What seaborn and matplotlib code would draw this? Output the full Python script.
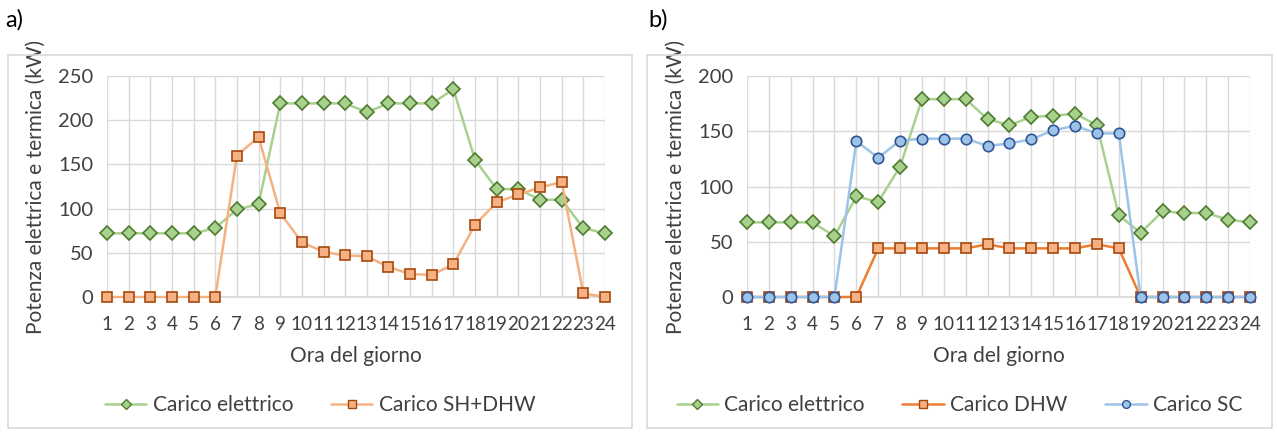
import matplotlib
matplotlib.use("Agg")
import matplotlib.pyplot as plt
import seaborn as sns
import pandas as pd
from matplotlib.patches import Rectangle
from matplotlib.lines import Line2D

sns.set_theme(style="white")
plt.rcParams['font.family'] = ['Lato', 'DejaVu Sans']

hours = list(range(1, 25))

# Panel a)
a_elettrico = [72, 72, 72, 72, 72, 78, 99, 105, 219, 219, 219, 219, 209, 219, 219, 219,
               235, 155, 122, 122, 110, 110, 78, 72]
a_sh_dhw = [0, 0, 0, 0, 0, 0, 160, 181, 95, 62, 51, 47, 46, 34, 26, 25,
            37, 82, 107, 116, 124, 130, 4, 0]

# Panel b)
b_elettrico = [67.5, 67.5, 67.5, 67.5, 55, 91, 86, 118, 179, 179, 179, 161, 155.5, 163, 164, 166,
               155.5, 74, 58, 77.5, 76, 76, 70, 67.5]
b_dhw = [0, 0, 0, 0, 0, 0, 44, 44, 44, 44, 44, 47.7, 44, 44, 44, 44,
         47.7, 44, 0, 0, 0, 0, 0, 0]
b_sc = [0, 0, 0, 0, 0, 141, 126, 141.5, 143.3, 143.3, 143.3, 136.7, 139, 142.7, 150.8, 155,
        148, 148, 0, 0, 0, 0, 0, 0]

x_label = "Ora del giorno"
y_label = "Potenza elettrica e termica (kW)"

styles = {
    "Carico elettrico": dict(color="#A9D18E", marker="D", mfc="#A9D18E", mec="#4E7A2E", ms=7),
    "Carico SH+DHW": dict(color="#F4B183", marker="s", mfc="#F4B183", mec="#A8480C", ms=7.5),
    "Carico DHW": dict(color="#ED7D31", marker="s", mfc="#F4B183", mec="#A8480C", ms=7.5),
    "Carico SC": dict(color="#9DC3E6", marker="o", mfc="#9DC3E6", mec="#2F5597", ms=7.5),
}

W, H = 1277, 432
fig = plt.figure(figsize=(W / 100, H / 100), dpi=100)

def fx(px):
    return px / W

def fy(py):
    return 1 - py / H

grid_c = "#D9D9D9"
text_c = "#404040"

panels = [
    dict(tag="a)", box=(8, 55, 632, 428), plot=(107, 76, 605, 297), ymax=250, yticks=[0, 50, 100, 150, 200, 250],
         series=[("Carico elettrico", a_elettrico), ("Carico SH+DHW", a_sh_dhw)], tagx=5),
    dict(tag="b)", box=(647, 55, 1272, 428), plot=(747, 76, 1250, 297), ymax=200, yticks=[0, 50, 100, 150, 200],
         series=[("Carico elettrico", b_elettrico), ("Carico DHW", b_dhw), ("Carico SC", b_sc)], tagx=648),
]

for p in panels:
    bx0, by0, bx1, by1 = p["box"]
    fig.patches.append(Rectangle((fx(bx0), fy(by1)), fx(bx1 - bx0), (by1 - by0) / H,
                                 transform=fig.transFigure, fill=False, edgecolor=grid_c, lw=1.2))
    fig.text(fx(p["tagx"]), fy(20), p["tag"], fontsize=17, color="black", va="center", ha="left")

    px0, py0, px1, py1 = p["plot"]
    ax = fig.add_axes([fx(px0), fy(py1), fx(px1 - px0), (py1 - py0) / H])
    handles = []
    for name, vals in p["series"]:
        st = styles[name]
        df = pd.DataFrame({"ora": hours, "val": vals})
        sns.lineplot(data=df, x="ora", y="val", ax=ax, color=st["color"], lw=1.8,
                     marker=st["marker"], markerfacecolor=st["mfc"], markeredgecolor=st["mec"],
                     markersize=st["ms"], markeredgewidth=1.2, zorder=3, clip_on=False)
        handles.append(Line2D([], [], color=st["color"], lw=1.8, marker=st["marker"],
                              markerfacecolor=st["mfc"], markeredgecolor=st["mec"],
                              markersize=st["ms"] * 0.75, markeredgewidth=1.0))
    ax.set_xlim(1, 24)
    ax.set_ylim(0, p["ymax"])
    ax.set_xticks(hours)
    ax.set_xticklabels([str(h) for h in hours])
    ax.set_yticks(p["yticks"])
    ax.grid(True, color=grid_c, lw=1.0)
    ax.set_axisbelow(True)
    for s in ["top", "right", "left"]:
        ax.spines[s].set_visible(False)
    ax.spines["bottom"].set_color(grid_c)
    ax.spines["bottom"].set_zorder(1)
    ax.tick_params(axis="both", length=0, colors=text_c)
    ax.tick_params(axis="y", pad=10, labelsize=14.5)
    ax.tick_params(axis="x", pad=14, labelsize=13.6)
    ax.set_xlabel(x_label, fontsize=15, color=text_c, labelpad=9)
    ax.set_ylabel(y_label, fontsize=15, color=text_c, labelpad=9)
    ax.set_facecolor("white")

    cx = (bx0 + bx1) / 2
    fig.legend(handles, [n for n, _ in p["series"]], loc="center", bbox_to_anchor=(fx(cx), fy(405)),
               ncol=len(handles), frameon=False, fontsize=15, handlelength=2.0, handletextpad=0.3,
               columnspacing=1.8, labelcolor=text_c)

fig.savefig("out.png", dpi=100, facecolor="white")
